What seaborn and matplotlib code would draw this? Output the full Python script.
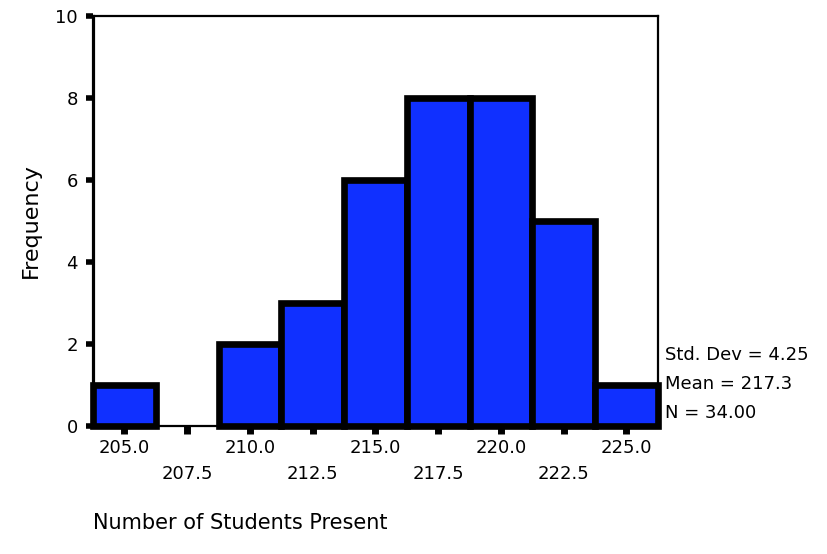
"""
SPSS tarzi histogram: Number of Students Present
"""
import matplotlib
matplotlib.use("Agg")
import matplotlib.pyplot as plt
import pandas as pd
import seaborn as sns

# Veri
bin_centers = [205.0, 207.5, 210.0, 212.5, 215.0, 217.5, 220.0, 222.5, 225.0]
counts = [1, 0, 2, 3, 6, 8, 8, 5, 1]
major_ticks = [205.0, 210.0, 215.0, 220.0, 225.0]
minor_ticks = [207.5, 212.5, 217.5, 222.5]
stats_lines = ["Std. Dev = 4.25", "Mean = 217.3", "N = 34.00"]
bin_width = 2.5

sns.set_style("ticks")
plt.rcParams['font.family'] = ['DejaVu Sans']
plt.rcParams['text.color'] = 'black'
plt.rcParams['axes.labelcolor'] = 'black'
plt.rcParams['xtick.color'] = 'black'
plt.rcParams['ytick.color'] = 'black'

fig = plt.figure(figsize=(8.27, 5.54), dpi=100)
ax = fig.add_axes([0.1125, 0.231, 0.683, 0.740])

df = pd.DataFrame({"students": bin_centers, "count": counts})
edges = [c - bin_width / 2 for c in bin_centers] + [bin_centers[-1] + bin_width / 2]
sns.histplot(data=df, x="students", weights="count", bins=edges, ax=ax,
             color='#1030ff', alpha=1.0, edgecolor='black', linewidth=4.8)

# bos bolmeleri cizme (SPSS gibi)
for p in list(ax.patches):
    p.set_clip_on(False)
    if p.get_height() == 0:
        p.remove()

ax.set_xlim(edges[0], edges[-1])
ax.set_ylim(0, 10)
ax.set_yticks([0, 2, 4, 6, 8, 10])

ax.set_xticks(major_ticks)
ax.set_xticklabels([f"{v:.1f}" for v in major_ticks])
ax.set_xticks(minor_ticks, minor=True)
ax.set_xticklabels([f"{v:.1f}" for v in minor_ticks], minor=True)

ax.tick_params(axis='x', which='both', bottom=True, direction='out', length=6,
               width=5, labelsize=13, color='black', labelcolor='black')
ax.tick_params(axis='x', which='major', pad=3)
ax.tick_params(axis='x', which='minor', pad=22)
ax.tick_params(axis='y', left=True, direction='out', length=5, width=4,
               labelsize=13, color='black', labelcolor='black', pad=6)

for side, lw in [('left', 2.3), ('top', 1.6), ('right', 1.6), ('bottom', 1.6)]:
    ax.spines[side].set_visible(True)
    ax.spines[side].set_linewidth(lw)
    ax.spines[side].set_color('black')

ax.set_ylabel("Frequency", fontsize=16, labelpad=10)
ax.set_xlabel("Number of Students Present", fontsize=15, loc='left', labelpad=22)

for i, line in enumerate(stats_lines):
    ax.text(1.012, 0.173 - i * 0.071, line, transform=ax.transAxes,
            fontsize=13, va='center', ha='left')

fig.savefig("out.png", dpi=100)
plt.close(fig)
